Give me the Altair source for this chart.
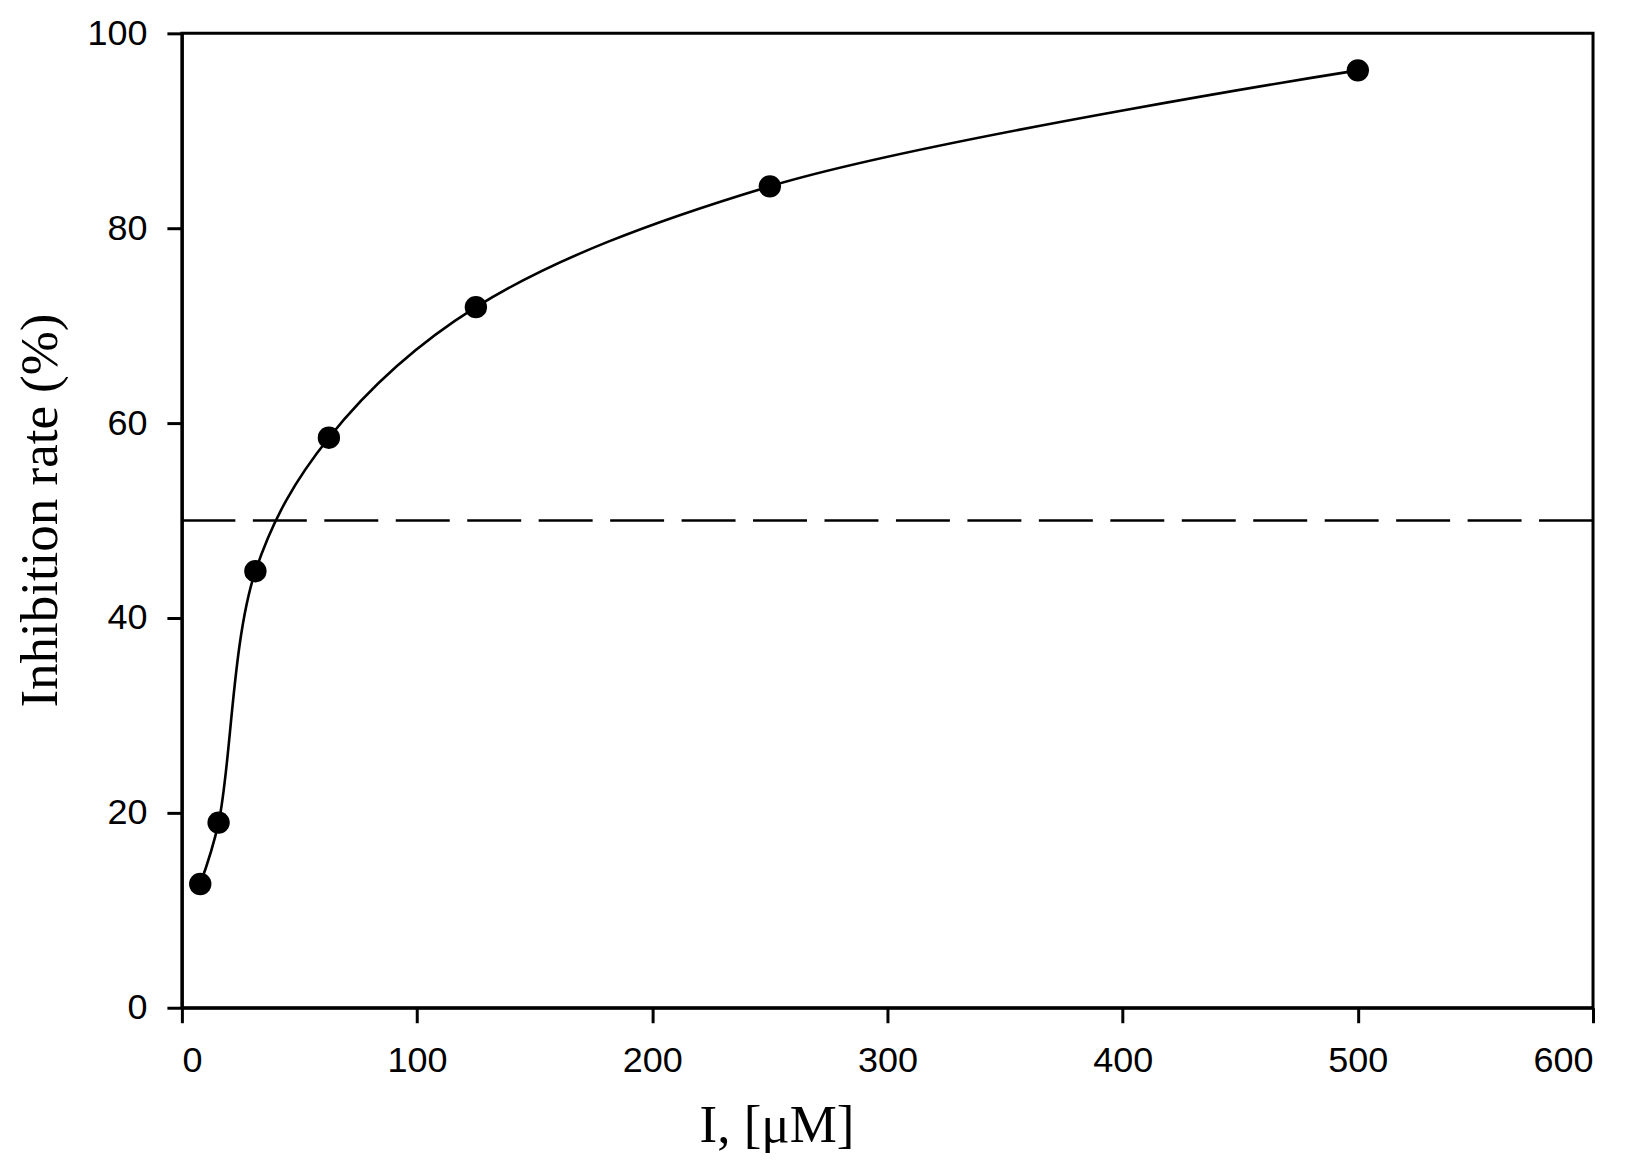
import altair as alt
import pandas as pd

# data
conc = [7.8, 15.6, 31.25, 62.5, 125, 250, 500]
inhib = [12.7, 19.0, 44.8, 58.5, 71.9, 84.3, 96.2]
ref_level = [50]
x_ticks = [0, 100, 200, 300, 400, 500, 600]
y_ticks = [0, 20, 40, 60, 80, 100]

df = pd.DataFrame({"conc": conc, "inhib": inhib})
ref = pd.DataFrame({"inhib": ref_level})

x_enc = alt.X(
    "conc:Q",
    scale=alt.Scale(domain=[0, 600], nice=False, zero=False),
    axis=alt.Axis(
        values=x_ticks,
        title="I, [μM]",
        titleX=595,
        titleY=134,
        titleAlign="center",
        titleBaseline="alphabetic",
        labelPadding=21,
    ),
)
y_enc = alt.Y(
    "inhib:Q",
    scale=alt.Scale(domain=[0, 100], nice=False),
    axis=alt.Axis(
        values=y_ticks,
        title="Inhibition rate (%)",
        titleAngle=270,
        titleX=-125,
        titleY=477,
        titleAlign="center",
        titleBaseline="alphabetic",
        labelPadding=20,
    ),
)

curve = alt.Chart(df).mark_line(
    color="black", strokeWidth=2.6, interpolate="catmull-rom"
).encode(x=x_enc, y=y_enc)

points = alt.Chart(df).mark_circle(
    color="black", opacity=1, size=500
).encode(x=x_enc, y=y_enc)

rule = alt.Chart(ref).mark_rule(
    color="black", strokeWidth=2.5, strokeDash=[54, 17.5]
).encode(y=y_enc)

chart = (
    alt.layer(rule, curve, points)
    .properties(
        width=1412,
        height=975,
        autosize=alt.AutoSizeParams(type="none"),
        padding={"left": 174, "top": 25, "right": 40, "bottom": 150},
    )
    .configure_view(stroke="black", strokeWidth=3)
    .configure_axis(
        grid=False,
        domainColor="black",
        domainWidth=3,
        tickColor="black",
        tickWidth=3,
        tickSize=15,
        labelFont="Liberation Sans",
        labelFontSize=36,
        labelColor="black",
        titleFont="Liberation Serif",
        titleFontSize=53,
        titleFontWeight="normal",
        titleColor="black",
    )
)

chart.save("out.html", embed_options={"renderer": "svg", "actions": False})
